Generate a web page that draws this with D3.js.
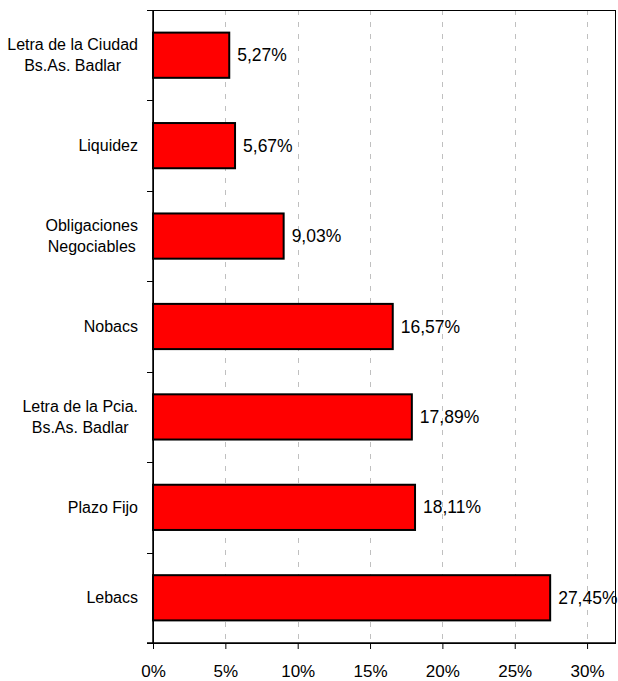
<!DOCTYPE html>
<html>
<head>
<meta charset="utf-8">
<script src="https://cdn.jsdelivr.net/npm/d3@7"></script>
<style>
  body { margin: 0; background: #fff; }
  text { font-family: "Liberation Sans", Arial, sans-serif; fill: #000; }
</style>
</head>
<body>
<script>
var w = 618;
var h = 681;

//categories from top to bottom, each label split in lines
var categories = ["Letra de la Ciudad Bs.As. Badlar", "Liquidez", "Obligaciones Negociables", "Nobacs",
                  "Letra de la Pcia. Bs.As. Badlar", "Plazo Fijo", "Lebacs"];
var labelLines = [["Letra de la Ciudad", "Bs.As. Badlar"], ["Liquidez"], ["Obligaciones", "Negociables"], ["Nobacs"],
                  ["Letra de la Pcia.", "Bs.As. Badlar"], ["Plazo Fijo"], ["Lebacs"]];
var values = [0.0527, 0.0567, 0.0903, 0.1657, 0.1789, 0.1811, 0.2745];
var valueLabels = ["5,27%", "5,67%", "9,03%", "16,57%", "17,89%", "18,11%", "27,45%"];
var xTicks = [0, 0.05, 0.10, 0.15, 0.20, 0.25, 0.30];
var xTickLabels = ["0%", "5%", "10%", "15%", "20%", "25%", "30%"];

var margin = {top: 10, right: 2, bottom: 38, left: 153};

var svg = d3.select("body")
            .append("svg")
            .attr("width", w)
            .attr("height", h);

var x = d3.scaleLinear()
    .domain([0, 0.32])
    .range([margin.left, w - margin.right]);

var y = d3.scaleBand()
    .domain(categories)
    .range([margin.top, h - margin.bottom])
    .paddingInner(0.5)
    .paddingOuter(0.25);

//band edges for the y tick marks
var step = y.step();
var bandEdges = d3.range(categories.length + 1).map(function(i) { return margin.top + i * step; });

//dashed grid lines
svg.append("g")
    .selectAll("line")
    .data(xTicks.slice(1))
    .enter().append("line")
    .attr("x1", function(d) { return Math.round(x(d)) + 0.5; })
    .attr("x2", function(d) { return Math.round(x(d)) + 0.5; })
    .attr("y1", margin.top)
    .attr("y2", h - margin.bottom)
    .attr("stroke", "#c0c0c0")
    .attr("stroke-width", 1)
    .attr("stroke-dasharray", "5,7");

//plot frame
svg.append("rect")
    .attr("x", margin.left + 0.5)
    .attr("y", margin.top + 0.5)
    .attr("width", w - margin.right - margin.left - 1)
    .attr("height", h - margin.bottom - margin.top)
    .attr("fill", "none")
    .attr("stroke", "#000")
    .attr("stroke-width", 1);

//bars
svg.append("g")
    .selectAll("rect")
    .data(values)
    .enter().append("rect")
    .attr("x", x(0))
    .attr("y", function(d, i) { return y(categories[i]); })
    .attr("width", function(d) { return x(d) - x(0); })
    .attr("height", y.bandwidth())
    .attr("fill", "#ff0000")
    .attr("stroke", "#000")
    .attr("stroke-width", 2);

//value labels
svg.append("g")
    .selectAll("text")
    .data(values)
    .enter().append("text")
    .attr("x", function(d) { return x(d) + 8; })
    .attr("y", function(d, i) { return y(categories[i]) + y.bandwidth() / 2 + 6; })
    .attr("font-size", "17.5px")
    .text(function(d, i) { return valueLabels[i]; });

//y axis line and ticks
svg.append("line")
    .attr("x1", margin.left).attr("x2", margin.left)
    .attr("y1", margin.top).attr("y2", h - margin.bottom)
    .attr("stroke", "#000").attr("stroke-width", 1.5);

svg.append("g")
    .selectAll("line")
    .data(bandEdges)
    .enter().append("line")
    .attr("x1", margin.left - 6).attr("x2", margin.left)
    .attr("y1", function(d) { return Math.round(d) + 0.5; })
    .attr("y2", function(d) { return Math.round(d) + 0.5; })
    .attr("stroke", "#000").attr("stroke-width", 1);

//category labels: the block is right aligned, the lines are centred inside it
var catLabels = svg.append("g")
    .selectAll("text")
    .data(labelLines)
    .enter().append("text")
    .attr("text-anchor", "middle")
    .attr("font-size", "16px")
    .attr("y", function(d, i) {
        var c = y(categories[i]) + y.bandwidth() / 2;
        return c + 5.5 - (d.length - 1) * 10.25;
    });

catLabels.each(function(d) {
    var t = d3.select(this);
    var maxW = 0;
    d.forEach(function(line, j) {
        var ts = t.append("tspan").attr("x", 0).attr("dy", j === 0 ? 0 : 20.5).text(line);
        maxW = Math.max(maxW, ts.node().getComputedTextLength());
    });
    t.selectAll("tspan").attr("x", margin.left - 15 - maxW / 2);
});

//x axis
var xAxis = svg.append("g")
    .attr("transform", "translate(0," + (h - margin.bottom) + ")")
    .call(d3.axisBottom(x)
        .tickValues(xTicks)
        .tickSize(6)
        .tickFormat(function(d, i) { return xTickLabels[i]; }));

xAxis.select(".domain").remove();
xAxis.selectAll(".tick line").attr("stroke", "#000");
xAxis.selectAll(".tick text")
    .attr("font-family", "Liberation Sans, Arial, sans-serif")
    .attr("font-size", "17px")
    .attr("fill", "#000")
    .attr("dy", 0)
    .attr("y", 34);

svg.append("line")
    .attr("x1", margin.left - 6).attr("x2", w - margin.right)
    .attr("y1", h - margin.bottom).attr("y2", h - margin.bottom)
    .attr("stroke", "#000").attr("stroke-width", 1.5);
</script>
</body>
</html>
